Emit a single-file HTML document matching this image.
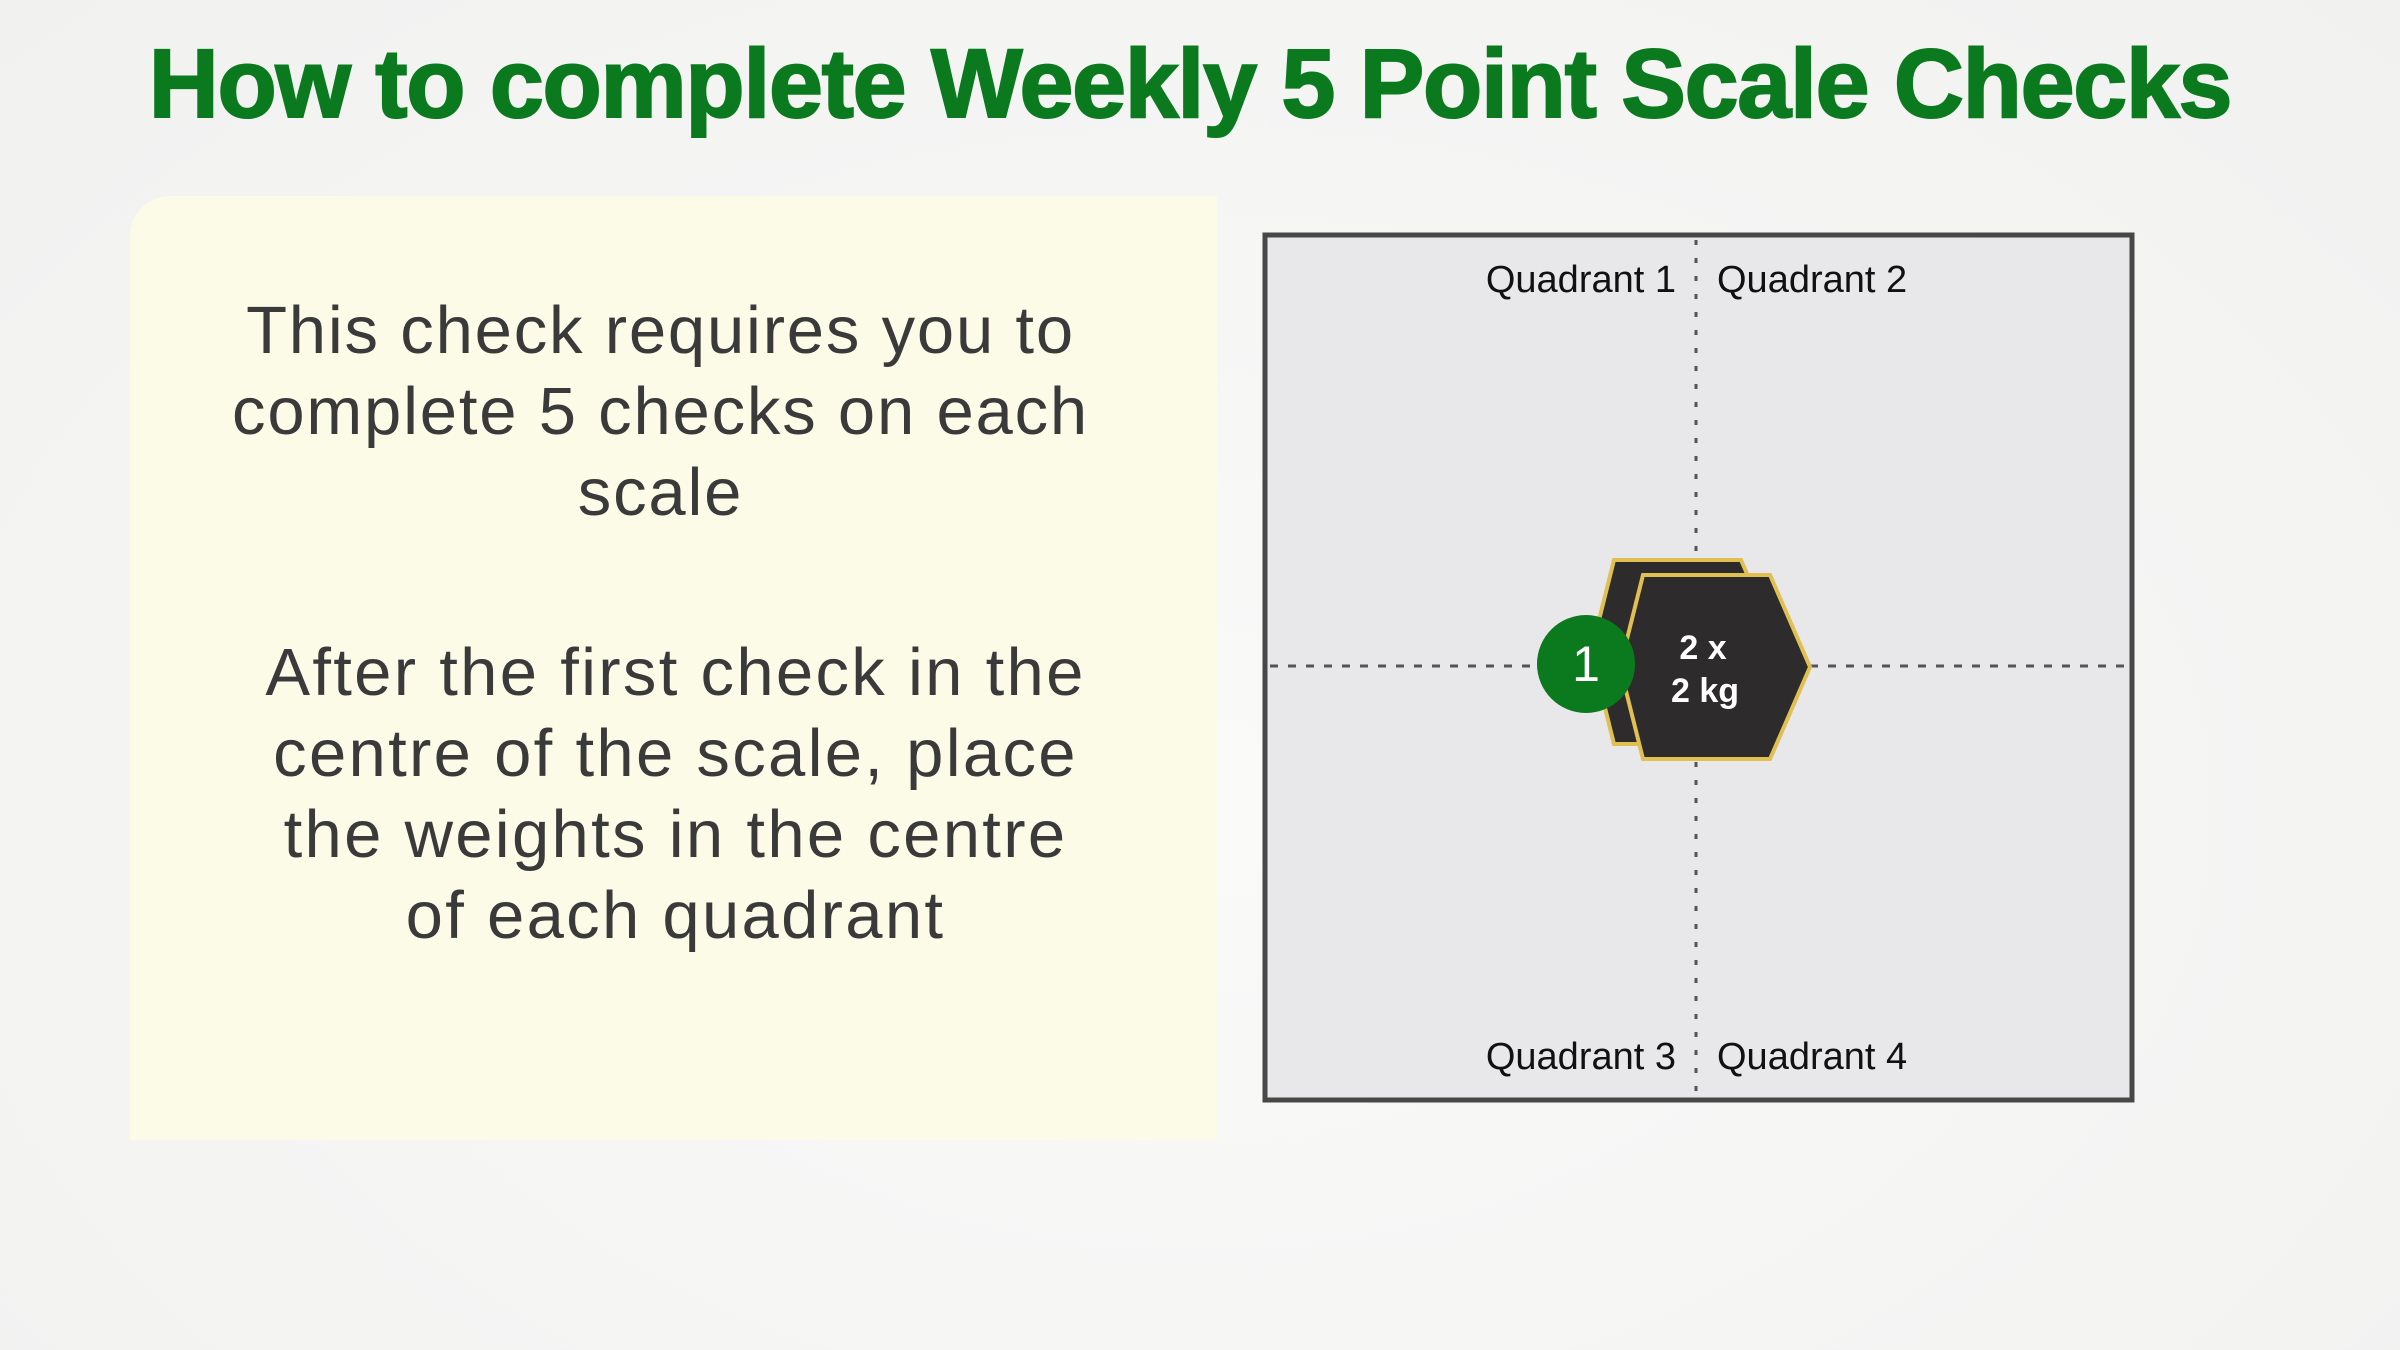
<!DOCTYPE html>
<html><head><meta charset="utf-8"><style>
html,body{margin:0;padding:0}
body{width:2400px;height:1350px;overflow:hidden;background:radial-gradient(ellipse at 50% 60%,#fafaf9 0%,#f1f1f0 100%);font-family:"Liberation Sans",sans-serif;position:relative}
.title{position:absolute;left:0;width:2380px;top:28px;text-align:center;font-weight:bold;font-size:97px;color:#0b7a1e;letter-spacing:-1.3px;-webkit-text-stroke:2px #0b7a1e}
.panel{position:absolute;left:130px;top:196px;width:1087px;height:944px;background:#fbfbe8;border-radius:40px 0 0 0}
.t{position:absolute;width:1087px;text-align:center;font-size:67px;line-height:81px;color:#3a3a3a;letter-spacing:1.8px}
</style></head><body>
<div class="title">How to complete Weekly 5 Point Scale Checks</div>
<div class="panel"></div>
<div class="t" style="top:290px;left:117px">This check requires you to<br>complete 5 checks on each<br>scale</div>
<div class="t" style="top:632px;left:132px;letter-spacing:2.3px">After the first check in the<br>centre of the scale, place<br>the weights in the centre<br>of each quadrant</div>
<svg style="position:absolute;left:0;top:0" width="2400" height="1350">
<rect x="1265" y="235" width="867" height="865" fill="#e8e7ea" stroke="#474747" stroke-width="5"/>
<line x1="1696" y1="240" x2="1696" y2="1095" stroke="#555" stroke-width="3" stroke-dasharray="5,13"/>
<line x1="1270" y1="666" x2="2128" y2="666" stroke="#555" stroke-width="3" stroke-dasharray="8,10"/>
<g font-family="Liberation Sans,sans-serif" font-size="38" fill="#111">
<text x="1676" y="292" text-anchor="end">Quadrant 1</text>
<text x="1717" y="292">Quadrant 2</text>
<text x="1676" y="1069" text-anchor="end">Quadrant 3</text>
<text x="1717" y="1069">Quadrant 4</text>
</g>
<polygon points="1614,560 1741,560 1781,652 1741,744 1614,744 1591,652" fill="#2d2b2c" stroke="#e0c050" stroke-width="4"/>
<polygon points="1643,575 1770,575 1810,667 1770,759 1643,759 1620,667" fill="#2d2b2c" stroke="#e0c050" stroke-width="4"/>
<circle cx="1586" cy="664" r="49" fill="#0b7a1e"/>
<text x="1586" y="681" text-anchor="middle" font-family="Liberation Sans,sans-serif" font-size="50" fill="#fff">1</text>
<g font-family="Liberation Sans,sans-serif" font-size="34" font-weight="bold" fill="#fff" text-anchor="middle">
<text x="1703" y="659">2 x</text>
<text x="1705" y="702">2 kg</text>
</g>
</svg>
</body></html>
